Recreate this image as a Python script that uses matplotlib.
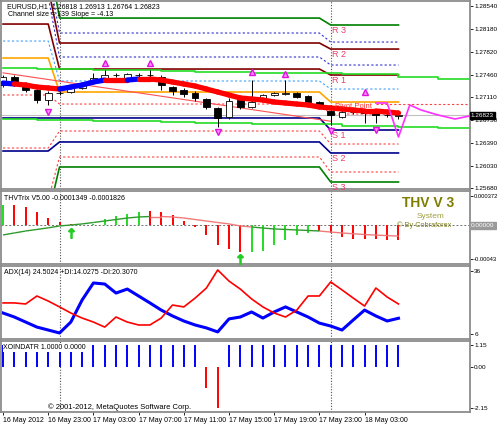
import numpy as np
import matplotlib.pyplot as plt
import matplotlib.transforms as mtransforms
from matplotlib.collections import LineCollection

plt.rcParams['font.family'] = ['Liberation Sans', 'DejaVu Sans']

# ---------------- data (EURUSD H1, 16 May 19:00 .. 18 May 06:00) ----------------
opens = [1.2730, 1.2742, 1.2727, 1.2722, 1.2706, 1.2717, 1.2719, 1.2725, 1.2735, 1.2741,
         1.2746, 1.2741, 1.2745, 1.2746, 1.2743, 1.2726, 1.2722, 1.2717, 1.2708, 1.2694,
         1.2680, 1.2706, 1.2695, 1.2709, 1.2714, 1.2716, 1.2717, 1.2713, 1.2703, 1.2689,
         1.2680, 1.2688, 1.2688, 1.2686, 1.2683, 1.26818]
highs = [1.2745, 1.2745, 1.2735, 1.2724, 1.2720, 1.2721, 1.2727, 1.2735, 1.2749, 1.2753,
         1.2748, 1.2749, 1.2749, 1.2753, 1.2745, 1.2729, 1.2725, 1.2720, 1.2710, 1.2695,
         1.2710, 1.2708, 1.2737, 1.2716, 1.2719, 1.2738, 1.2719, 1.2714, 1.2705, 1.2691,
         1.2690, 1.2690, 1.2690, 1.2688, 1.2686, 1.26913]
lows = [1.2727, 1.2729, 1.2719, 1.2701, 1.2698, 1.2714, 1.2717, 1.2724, 1.2733, 1.2739,
        1.2742, 1.2739, 1.2743, 1.2742, 1.2722, 1.2714, 1.2711, 1.2705, 1.2692, 1.2664,
        1.2676, 1.2692, 1.2693, 1.2707, 1.2712, 1.2714, 1.2709, 1.2700, 1.2696, 1.2667,
        1.2678, 1.2685, 1.2670, 1.2670, 1.2679, 1.26764]
closes = [1.2742, 1.2733, 1.2722, 1.2706, 1.2717, 1.2718, 1.2725, 1.2733, 1.2741, 1.2746,
          1.2745, 1.2747, 1.2745, 1.2745, 1.2730, 1.2720, 1.2716, 1.2710, 1.2695, 1.2678,
          1.2704, 1.2695, 1.2703, 1.2714, 1.2717, 1.2717, 1.2711, 1.2703, 1.2698, 1.2682,
          1.2688, 1.2688, 1.2686, 1.2683, 1.2683, 1.26823]

ma = [1.27330, 1.27315, 1.27299, 1.27267, 1.27252, 1.27236, 1.27267, 1.27299, 1.27346, 1.27377,
      1.27377, 1.27377, 1.27393, 1.27393, 1.27377, 1.27346, 1.27315, 1.27283, 1.27236, 1.27189,
      1.27142, 1.27095, 1.27079, 1.27063, 1.27032, 1.27016, 1.27000, 1.26985, 1.26953, 1.26938,
      1.26922, 1.26906, 1.26891, 1.26891, 1.26875, 1.26859]
ma_trend = [1, -1, -1, -1, -1, 1, 1, 1, 1, -1, -1, 1, -1, -1, -1, -1, -1, -1, -1, -1,
            -1, -1, -1, -1, -1, -1, -1, -1, -1, -1, -1, -1, -1, -1, -1, -1]

# daily pivot levels: 16 May, 17 May, 18 May
r3 = [1.29341, 1.28351, 1.28242]
m_r23 = [1.29074, 1.28116, 1.27974]
r2 = [1.28823, 1.27959, 1.27864]
m_r12 = [1.28681, 1.27739, 1.27613]
r1 = [1.28257, 1.27550, 1.27456]
m_pr1 = [1.27990, 1.27362, 1.27236]
pivot = [1.27723, 1.27189, 1.27032]
m_ps1 = [1.27142, 1.27000, 1.26843]
s1 = [1.26781, 1.26781, 1.26592]
m_s12 = [1.26309, 1.26576, 1.26372]
s2 = [1.26262, 1.26404, 1.26231]
m_s23 = [1.25492, 1.26168, 1.25932]
s3 = [1.25257, 1.26011, 1.25775]
bars_per_day = [5, 24, 7]
day_breaks = [5, 29]

chan_x = [0, 3, 8, 14, 17, 22, 30, 35, 38.5]
chan_up = [1.27566, 1.27550, 1.27535, 1.27519, 1.27503, 1.27487, 1.27472, 1.27425, 1.27393]
chan_dn = [1.26765, 1.26749, 1.26733, 1.26718, 1.26702, 1.26686, 1.26655, 1.26639, 1.26623]
reg_x = [0, 29]
reg_y = [1.2749, 1.2673]
ext_level = 1.26995

fc_x = [33, 34, 35, 36, 37, 38.5, 40, 41.3]
fc_y = [1.27016, 1.27016, 1.26482, 1.26985, 1.26906, 1.26828, 1.26765, 1.26812]

frac_up_x = [9, 13, 22, 25, 32]
frac_up_y = [1.27645, 1.27645, 1.27503, 1.27472, 1.27189]
frac_dn_x = [4, 19, 29, 33]
frac_dn_y = [1.26875, 1.26561, 1.26576, 1.26592]
last_price = 1.26823

trix_hist = [2.54, 2.6, 2.3, 1.65, 1.0, 0.4, 0.13, 0.0, 0.13, 0.85, 1.15, 1.5, 1.7, 1.8, 1.7,
             1.3, 0.55, -0.2, -1.27, -2.5, -3.0, -3.4, -3.4, -3.2, -2.5, -1.8, -1.2, -0.9,
             -0.75, -1.0, -1.5, -1.7, -1.7, -1.7, -1.78, -1.83]
trix_hist_up = [1, 0, 0, 0, 0, 0, 0, 0, 1, 1, 1, 1, 1, 0, 0, 0, 0, 0, 0, 0, 0, 0,
                1, 1, 1, 1, 1, 1, 0, 0, 0, 0, 0, 0, 0, 0]
trix_sig = [-1.2, -0.95, -0.7, -0.5, -0.3, -0.06, 0.06, 0.2, 0.38, 0.57, 0.76, 0.95, 1.08,
            1.14, 1.14, 1.08, 0.95, 0.76, 0.57, 0.38, 0.2, -0.06, -0.19, -0.32, -0.44, -0.5,
            -0.57, -0.63, -0.7, -0.83, -0.95, -1.05, -1.15, -1.22, -1.28, -1.35]
trix_sig_up = [1] * 13 + [0] * 9 + [1] * 6 + [0] * 8
trix_arrow_x = [6, 21]
trix_arrow_y = [-0.95, -4.3]

plus_di = [16.0, 14.1, 11.7, 9.3, 7.9, 6.5, 11.7, 22.2, 30.3, 29.8, 25.5, 27.4, 24.1, 20.8,
           17.4, 14.6, 12.2, 10.3, 8.9, 7.0, 13.2, 14.1, 16.5, 13.6, 16.5, 18.9, 16.5, 14.1,
           11.2, 9.8, 7.9, 12.7, 17.4, 14.6, 12.2, 13.5]
minus_di = [20.8, 20.8, 20.3, 24.1, 21.7, 18.9, 16.0, 13.6, 11.7, 9.3, 14.1, 11.7, 10.3, 10.3,
            13.6, 19.8, 18.9, 23.1, 27.9, 36.5, 31.2, 27.4, 22.7, 18.9, 16.0, 14.1, 17.4, 24.1,
            24.1, 30.8, 27.0, 23.1, 19.3, 27.9, 23.6, 20.3]

xo_vals = [1.15] * 18 + [-1.1, -2.15] + [1.15] * 16

time_ticks = [0, 4, 8, 12, 16, 20, 24, 28, 32]
time_labels = ['16 May 2012', '16 May 23:00', '17 May 03:00', '17 May 07:00', '17 May 11:00',
               '17 May 15:00', '17 May 19:00', '17 May 23:00', '18 May 03:00']

# ---------------- figure ----------------
W, H = 497, 426
fig = plt.figure(figsize=(W / 100, H / 100), dpi=100)
AX_FS = 4.6


def panel(top, bottom):
    return fig.add_axes([1 / W, 1 - bottom / H, 469 / W, (bottom - top) / H])


def style(ax, ticks, labels):
    ax.set_xlim(-0.18, 41.33)
    ax.yaxis.tick_right()
    ax.set_yticks(ticks)
    ax.set_yticklabels(labels)
    ax.tick_params(axis='y', length=2, width=0.6, pad=1, labelsize=AX_FS)
    ax.set_xticks([])
    for s in ax.spines.values():
        s.set_color('#8c8c8c')
        s.set_linewidth(1.3)
    for b in day_breaks:
        ax.axvline(b, color='#505050', lw=0.8, ls=(0, (1, 1.5)), zorder=1)


x = np.arange(len(closes))
ax1 = panel(1, 189)
ax2 = panel(191, 264)
ax3 = panel(266, 339)
ax4 = panel(341, 412)

# ---- main chart ----
price_ticks = [1.2854, 1.2818, 1.2782, 1.2746, 1.2711, 1.2675, 1.2639, 1.2603, 1.2568]
style(ax1, price_ticks, ['%.5f' % t for t in price_ticks])
ax1.set_ylim(1.25665, 1.28619)

day_idx = np.repeat(np.arange(3), bars_per_day)
piv_styles = [
    (r3, '#008000', '-', 1.2), (m_r23, '#3030d0', (0, (2, 2)), 0.8),
    (r2, '#800000', '-', 1.2), (m_r12, '#3030d0', (0, (2, 2)), 0.8),
    (r1, '#800000', '-', 1.2), (m_pr1, '#40a0ff', (0, (2, 2)), 0.8),
    (pivot, '#ffa500', '-', 1.2), (m_ps1, '#ff4040', (0, (2, 2)), 0.8),
    (s1, '#00008b', '-', 1.2), (m_s12, '#ff4040', (0, (2, 2)), 0.8),
    (s2, '#00008b', '-', 1.2), (m_s23, '#ff4040', (0, (2, 2)), 0.8),
    (s3, '#008000', '-', 1.2),
]
for lvl, col, ls, lw in piv_styles:
    ax1.plot(x, np.array(lvl)[day_idx], color=col, ls=ls, lw=lw, zorder=2)

ax1.axhline(last_price, color='#c0c0c0', lw=0.8, zorder=1)
ax1.plot([33, 41.33], [ext_level, ext_level], color='#ff4040', ls=(0, (2, 2)), lw=0.8)
cx = np.append(chan_x, 41.33)
ax1.plot(cx, np.append(chan_up, chan_up[-1]), drawstyle='steps-post', color='#22dd22', lw=1.2, zorder=2)
ax1.plot(cx, np.append(chan_dn, chan_dn[-1]), drawstyle='steps-post', color='#22dd22', lw=1.2, zorder=2)
ax1.plot(reg_x, reg_y, color='#ff5050', lw=0.8, zorder=2)

# candles
o, c = np.array(opens), np.array(closes)
ax1.vlines(x, lows, highs, color='black', lw=0.7, zorder=3)
bull = c >= o
ax1.bar(x, c - o, bottom=o, width=0.6, color=np.where(bull, 'white', 'black'),
        edgecolor='black', lw=0.6, zorder=4)

# trend MA
pts = np.column_stack([x, ma])
segs = [pts[i:i + 2] for i in range(len(x) - 1)]
cols = ['#0000ff' if ma_trend[i] > 0 else '#ff0000' for i in range(len(x) - 1)]
ax1.add_collection(LineCollection(segs, colors=cols, linewidths=3.8, capstyle='round', zorder=5))

ax1.plot(fc_x, fc_y, color='#ff30ff', lw=1.2, zorder=5)
ax1.plot(frac_up_x, frac_up_y, ls='none', marker='^', ms=5, mfc='#ff90ff', mec='#e010e0', mew=1, zorder=6)
ax1.plot(frac_dn_x, frac_dn_y, ls='none', marker='v', ms=5, mfc='#ff90ff', mec='#e010e0', mew=1, zorder=6)

for name, lvl in [('R 3', r3), ('R 2', r2), ('R 1', r1), ('S 1', s1), ('S 2', s2), ('S 3', s3)]:
    ax1.text(29.1, lvl[2] - 0.0001, name, color='#e8406a', fontsize=6.5, va='top', ha='left', zorder=7)
ax1.text(29.4, pivot[2] - 0.0001, 'Pivot Point', color='#ff3030', fontsize=5.5, va='top', zorder=7)

tr = mtransforms.blended_transform_factory(ax1.transAxes, ax1.transData)
ax1.text(1.002, last_price, '%.5f' % last_price, transform=tr, color='white', fontsize=AX_FS,
         va='center', ha='left', clip_on=False, zorder=10,
         bbox=dict(fc='black', ec='black', pad=0.9))

fig.text(7 / W, 1 - 7 / H, 'EURUSD,H1  1.26818 1.26913 1.26764 1.26823', fontsize=5, va='center')
fig.text(8 / W, 1 - 15 / H, 'Channel size = 139 Slope = -4.13', fontsize=5, va='center')

# ---- THVTrix ----
style(ax2, [3.72, -4.3], ['0.000372', '-0.00043'])
ax2.tick_params(axis='y', labelsize=4.2)
ax2.set_ylim(-4.89, 4.38)
ax2.axhline(0, color='#707070', lw=0.7, ls=(0, (2, 2)), zorder=1)
ax2.vlines(x, 0, trix_hist, colors=['#22dd22' if u else '#ff0000' for u in trix_hist_up], lw=1.4, zorder=2)
spts = np.column_stack([x, trix_sig])
ssegs = [spts[i:i + 2] for i in range(len(x) - 1)]
scols = ['#2e9a2e' if trix_sig_up[i] else '#f07a7a' for i in range(len(x) - 1)]
ax2.add_collection(LineCollection(ssegs, colors=scols, linewidths=1.0, zorder=3))
ax2.plot(trix_arrow_x, trix_arrow_y, ls='none', marker=r'$\uparrow$', ms=7, color='#22cc22', zorder=4)
tr2 = mtransforms.blended_transform_factory(ax2.transAxes, ax2.transData)
ax2.text(1.002, 0, '0.00000', transform=tr2, color='white', fontsize=AX_FS, va='center', ha='left',
         clip_on=False, zorder=10, bbox=dict(fc='#9a9a9a', ec='#9a9a9a', pad=0.9))
fig.text(4 / W, 1 - 198 / H, 'THVTrix V5.00 -0.0001349 -0.0001826', fontsize=5, va='center')
fig.text(428 / W, 1 - 203 / H, 'THV V 3', fontsize=10, fontweight='bold', color='#7d7d00',
         ha='center', va='center')
fig.text(431 / W, 1 - 216 / H, 'System', fontsize=6, color='#a0a040', ha='center', va='center')
fig.text(424 / W, 1 - 225.5 / H, '\u00a9 By Cobraforex', fontsize=5.3, color='#80801a',
         ha='center', va='center')

# ---- ADX ----
style(ax3, [36, 6], ['36', '6'])
ax3.set_ylim(3.63, 38.38)
ax3.plot(x, minus_di, color='#ff0000', lw=1.2, zorder=3)
ax3.plot(x, plus_di, color='#0000ff', lw=2.2, zorder=2)
fig.text(4 / W, 1 - 273 / H, 'ADX(14) 24.5024 +DI:14.0275 -DI:20.3070', fontsize=5, va='center')

# ---- XOINDATR ----
style(ax4, [1.15, 0, -2.15], ['1.15', '0.00', '-2.15'])
ax4.set_ylim(-2.36, 1.36)
ax4.vlines(x, 0, xo_vals, colors=['#0000ff' if v > 0 else '#ff0000' for v in xo_vals], lw=1.4, zorder=2)
ax4.text(0.005, 0.955, 'XOINDATR 1.0000 0.0000', transform=ax4.transAxes, fontsize=5, va='top',
         zorder=5, bbox=dict(fc='white', ec='none', pad=0.6))
fig.text(120 / W, 1 - 407 / H, '\u00a9 2001-2012, MetaQuotes Software Corp.', fontsize=5.5,
         ha='center', va='center')
ax4.set_xticks(time_ticks)
ax4.set_xticklabels(time_labels, ha='left')
ax4.tick_params(axis='x', length=2, width=0.6, pad=1.5, labelsize=5)

fig.savefig('out.png', dpi=100)
